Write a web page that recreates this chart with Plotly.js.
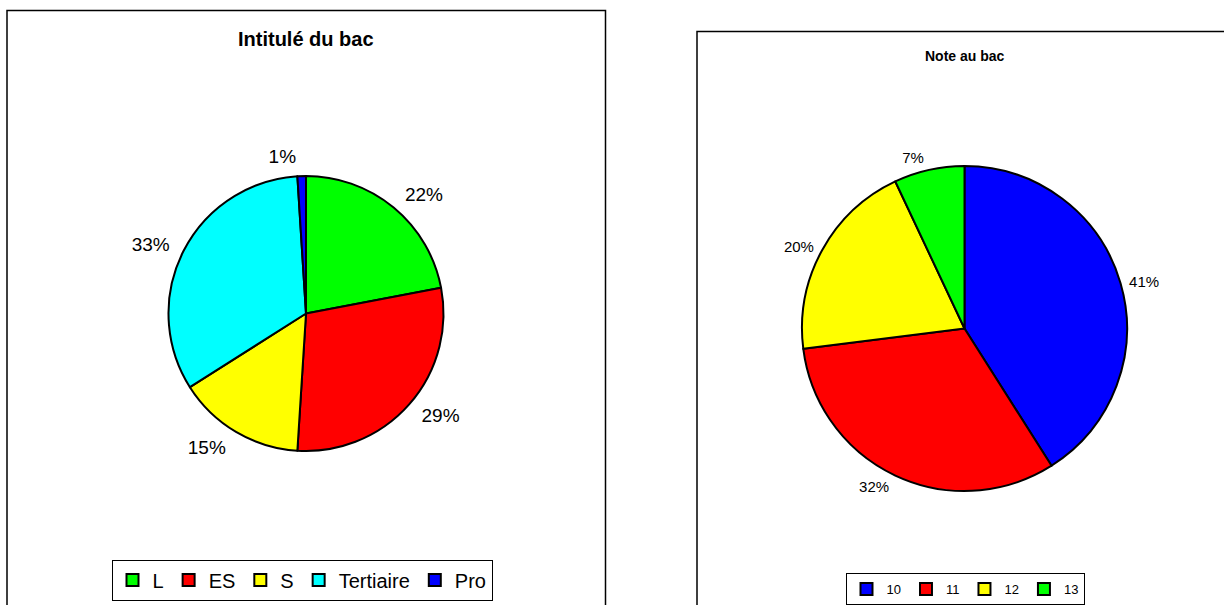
<!DOCTYPE html>
<html>
<head>
<meta charset="utf-8">
<script src="https://cdn.plot.ly/plotly-3.0.1.min.js"></script>
<style>html,body{margin:0;padding:0;background:#fff;}#chart{width:1224px;height:605px;}</style>
</head>
<body>
<div id="chart"></div>
<script>
// Chart 1: Intitulé du bac
const bacLabels = ["L", "ES", "S", "Tertiaire", "Pro"];
const bacValues = [22, 29, 15, 33, 1];
const bacColors = ["#00ff00", "#ff0000", "#ffff00", "#00ffff", "#0000ff"];
const bacTitle = "Intitulé du bac";

// Chart 2: Note au bac
const noteLabels = ["10", "11", "12", "13"];
const noteValues = [41, 32, 20, 7];
const noteColors = ["#0000ff", "#ff0000", "#ffff00", "#00ff00"];
const noteTitle = "Note au bac";

const W = 1224, H = 605;
const FONT = "Liberation Sans, Arial, sans-serif";
const px = x => x / W;
const py = y => 1 - y / H;

function dom(cx, cy, r) {
  return { x: [px(cx - r), px(cx + r)], y: [py(cy + r), py(cy - r)] };
}

function pieTrace(labels, values, colors, center, r, legendId) {
  return {
    type: "pie",
    labels: labels,
    values: values,
    sort: false,
    direction: "clockwise",
    rotation: 0,
    marker: { colors: colors, line: { color: "#000", width: 2 } },
    textinfo: "none",
    domain: dom(center[0], center[1], r),
    hoverinfo: "skip",
    legend: legendId
  };
}

// transparent companion pie that only carries the percentage labels, a bit further out
function labelTrace(labels, values, center, r, size) {
  return {
    type: "pie",
    labels: labels,
    values: values,
    sort: false,
    direction: "clockwise",
    rotation: 0,
    marker: { colors: labels.map(() => "rgba(0,0,0,0)"), line: { width: 0 } },
    textposition: "outside",
    texttemplate: "%{percent:.0%}",
    textfont: { family: FONT, size: size, color: "#000" },
    domain: dom(center[0], center[1], r),
    hoverinfo: "skip",
    showlegend: false
  };
}

const traces = [
  pieTrace(bacLabels, bacValues, bacColors, [306, 313.5], 137.5, "legend"),
  pieTrace(noteLabels, noteValues, noteColors, [964.5, 328.5], 162.5, "legend2"),
  labelTrace(bacLabels, bacValues, [306, 313.5], 147, 19),
  labelTrace(noteLabels, noteValues, [964.5, 328.5], 167, 15)
];

const layout = {
  width: W, height: H,
  margin: { l: 0, r: 0, t: 0, b: 0 },
  paper_bgcolor: "#fff",
  font: { family: FONT, color: "#000" },
  showlegend: true,
  legend: {
    orientation: "h", x: px(302), y: py(580), xanchor: "center", yanchor: "middle",
    bordercolor: "#000", borderwidth: 1, bgcolor: "#fff",
    font: { family: FONT, size: 20, color: "#000" }, itemclick: false
  },
  legend2: {
    orientation: "h", x: px(965), y: py(589), xanchor: "center", yanchor: "middle",
    bordercolor: "#000", borderwidth: 1, bgcolor: "#fff",
    font: { family: FONT, size: 13, color: "#000" }, itemclick: false
  },
  shapes: [
    { type: "rect", xref: "paper", yref: "paper", x0: px(7), x1: px(605.5), y0: py(640), y1: py(10.5), line: { color: "#000", width: 1.5 } },
    { type: "rect", xref: "paper", yref: "paper", x0: px(697), x1: px(1260), y0: py(640), y1: py(31.5), line: { color: "#000", width: 1.5 } }
  ],
  annotations: [
    { text: "<b>" + bacTitle + "</b>", xref: "paper", yref: "paper", x: px(306), y: py(39), xanchor: "center", yanchor: "middle", showarrow: false, font: { family: FONT, size: 20, color: "#000" } },
    { text: "<b>" + noteTitle + "</b>", xref: "paper", yref: "paper", x: px(965), y: py(56), xanchor: "center", yanchor: "middle", showarrow: false, font: { family: FONT, size: 14, color: "#000" } }
  ]
};

Plotly.newPlot("chart", traces, layout, { displayModeBar: false, staticPlot: true });
</script>
</body>
</html>
